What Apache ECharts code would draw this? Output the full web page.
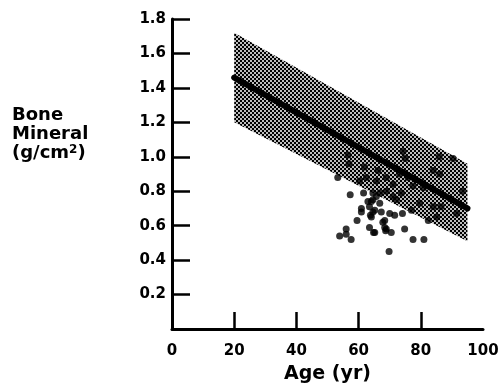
<!DOCTYPE html>
<html>
<head>
<meta charset="utf-8">
<script src="https://cdn.jsdelivr.net/npm/echarts@6/dist/echarts.min.js"></script>
<style>
  html, body { margin: 0; padding: 0; background: #fff; }
  #chart { width: 503px; height: 391px; }
</style>
</head>
<body>
<div id="chart"></div>
<script>
// regression line and the shaded normal range around it
const fitAge = [20, 95];
const fitBmd = [1.46, 0.70];
const bandUpper = [1.72, 0.96];
const bandLower = [1.20, 0.51];

// patient points
const ages = [
  53.3, 57.3, 61.6, 53.9, 56.0, 57.6, 59.5, 60.9, 60.9, 63.5,
  64.8, 63.8, 64.6, 63.0, 64.6, 66.8, 65.7, 67.8, 68.4, 68.7,
  70.0, 71.6, 70.5, 69.8, 74.1, 74.8, 77.5, 81.0, 72.2, 71.1,
  73.8, 66.8, 68.9, 64.6, 77.0, 82.4, 85.1, 91.5, 93.4, 90.4,
  85.9, 74.3, 75.0, 56.6, 56.9, 84.0, 86.1, 79.7, 84.0, 86.5,
  60.3, 62.5, 65.7, 68.9, 71.1, 73.2, 75.9, 77.5, 80.8, 72.2,
  66.2, 61.9, 64.1, 63.5, 65.2, 64.1, 67.3, 68.4, 68.9, 65.2,
  56.0
];
const bmd = [
  0.88, 0.78, 0.79, 0.54, 0.58, 0.52, 0.63, 0.70, 0.68, 0.59,
  0.56, 0.66, 0.68, 0.74, 0.75, 0.73, 0.77, 0.62, 0.59, 0.57,
  0.67, 0.66, 0.56, 0.45, 0.67, 0.58, 0.52, 0.52, 0.75, 0.77,
  0.79, 0.79, 0.80, 0.79, 0.69, 0.63, 0.65, 0.67, 0.80, 0.99,
  1.00, 1.03, 0.99, 1.01, 0.96, 0.92, 0.90, 0.73, 0.71, 0.71,
  0.86, 0.88, 0.86, 0.88, 0.84, 0.90, 0.88, 0.83, 0.82, 0.93,
  0.92, 0.94, 0.74, 0.71, 0.69, 0.65, 0.68, 0.63, 0.58, 0.56,
  0.55
];

const xTicks = [20, 40, 60, 80];
const yTicks = [0.2, 0.4, 0.6, 0.8, 1.0, 1.2, 1.4, 1.6, 1.8];

// halftone fill for the band: 2px checker cells
const tile = document.createElement('canvas');
tile.width = 4;
tile.height = 4;
const tctx = tile.getContext('2d');
tctx.fillStyle = '#bdbdbd';
tctx.fillRect(0, 0, 4, 4);
tctx.fillStyle = '#000';
tctx.fillRect(0, 0, 2, 2);
tctx.fillRect(2, 2, 2, 2);

const font = 'DejaVu Sans';
const myChart = echarts.init(document.getElementById('chart'), null, { renderer: 'canvas' });

const option = {
  animation: false,
  grid: { left: 172, right: 20, top: 19, bottom: 62, containLabel: false },
  xAxis: {
    type: 'value',
    min: 0,
    max: 100,
    interval: 20,
    name: 'Age (yr)',
    nameLocation: 'middle',
    nameGap: 36,
    nameTextStyle: { fontFamily: font, fontWeight: 'bold', fontSize: 19, color: '#000' },
    axisLine: { lineStyle: { color: '#000', width: 3 } },
    axisTick: { inside: true, length: 17, customValues: xTicks, lineStyle: { color: '#000', width: 2.5 } },
    axisLabel: { margin: 15, fontFamily: font, fontWeight: 'bold', fontSize: 15, color: '#000' },
    splitLine: { show: false }
  },
  yAxis: {
    type: 'value',
    min: 0,
    max: 1.8,
    interval: 0.2,
    axisLine: { show: true, lineStyle: { color: '#000', width: 3 } },
    axisTick: { inside: true, length: 18, customValues: yTicks, lineStyle: { color: '#000', width: 2.5 } },
    axisLabel: {
      margin: 6,
      customValues: yTicks,
      fontFamily: font, fontWeight: 'bold', fontSize: 15, color: '#000',
      formatter: (v) => v.toFixed(1)
    },
    splitLine: { show: false }
  },
  graphic: [{
    type: 'text',
    left: 12,
    top: 106,
    style: {
      text: '{a|Bone}\n{a|Mineral}\n{a|(g/cm}{s|2}{a|)}',
      rich: {
        a: { fontFamily: font, fontWeight: 'bold', fontSize: 18, lineHeight: 19, fill: '#000' },
        s: { fontFamily: font, fontWeight: 'bold', fontSize: 12, lineHeight: 19, verticalAlign: 'top', fill: '#000' }
      }
    }
  }],
  series: [
    {
      name: 'range',
      type: 'custom',
      data: [0],
      renderItem: (params, api) => {
        const pts = [
          api.coord([fitAge[0], bandUpper[0]]),
          api.coord([fitAge[1], bandUpper[1]]),
          api.coord([fitAge[1], bandLower[1]]),
          api.coord([fitAge[0], bandLower[0]])
        ];
        return {
          type: 'polygon',
          shape: { points: pts },
          style: { fill: { image: tile, repeat: 'repeat' }, stroke: null }
        };
      },
      z: 1
    },
    {
      name: 'fit',
      type: 'line',
      data: fitAge.map((a, i) => [a, fitBmd[i]]),
      symbol: 'none',
      lineStyle: { color: '#000', width: 6, cap: 'round' },
      z: 2
    },
    {
      name: 'patients',
      type: 'scatter',
      data: ages.map((a, i) => [a, bmd[i]]),
      symbol: 'circle',
      symbolSize: 7,
      itemStyle: { color: '#000' },
      z: 3
    }
  ]
};

myChart.setOption(option);
</script>
</body>
</html>
